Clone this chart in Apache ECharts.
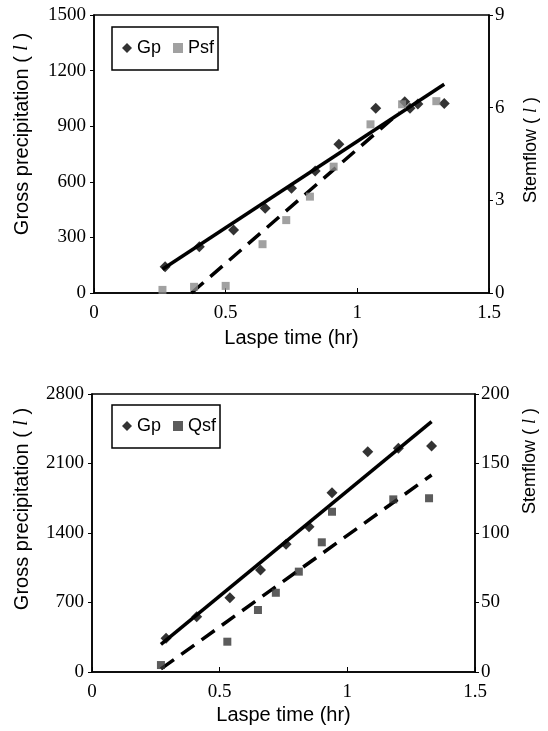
<!DOCTYPE html>
<html>
<head>
<meta charset="utf-8">
<script src="https://cdn.jsdelivr.net/npm/echarts@6/dist/echarts.min.js"></script>
<style>
  html, body { margin: 0; padding: 0; background: #fff; }
  #chart { width: 548px; height: 731px; }
</style>
</head>
<body>
<div id="chart"></div>
<script>
"use strict";
// upper panel: Gp (left axis) and Psf (right axis)
var topGpX = [0.27, 0.40, 0.53, 0.65, 0.75, 0.84, 0.93, 1.07, 1.18, 1.20, 1.23, 1.33];
var topGpY = [142, 250, 340, 457, 565, 658, 802, 997, 1032, 997, 1020, 1023];
var topPsfX = [0.26, 0.38, 0.50, 0.64, 0.73, 0.82, 0.91, 1.05, 1.17, 1.30];
var topPsfY = [0.1, 0.2, 0.23, 1.58, 2.36, 3.12, 4.09, 5.46, 6.11, 6.21];
var topGpLineX = [0.26, 1.33];
var topGpLineY = [128, 1126];
var topPsfLineX = [0.37, 1.16];
var topPsfLineY = [0, 5.84];

// lower panel: Gp (left axis) and Qsf (right axis)
var botGpX = [0.29, 0.41, 0.54, 0.66, 0.76, 0.85, 0.94, 1.08, 1.20, 1.33];
var botGpY = [339, 557, 748, 1027, 1286, 1463, 1806, 2219, 2253, 2276];
var botQsfX = [0.27, 0.53, 0.65, 0.72, 0.81, 0.90, 0.94, 1.18, 1.32];
var botQsfY = [5, 21.8, 44.6, 57, 72.2, 93.3, 115.3, 124.2, 125];
var botGpLineX = [0.27, 1.33];
var botGpLineY = [279, 2521];
var botQsfLineX = [0.27, 1.33];
var botQsfLineY = [2.2, 141.7];

var xTitle = 'Laspe time (hr)';
var leftTitle = 'Gross precipitation ( {i|l} )';
var rightTitle = 'Stemflow ( {i|l} )';

function pairs(xs, ys) {
    return xs.map(function (x, i) { return [x, ys[i]]; });
}

var serif = '"Liberation Serif", "DejaVu Serif", serif';
var sans = '"Liberation Sans", Arial, sans-serif';

function xAxis(grid, gap) {
    return {
        type: 'value', gridIndex: grid, min: 0, max: 1.5, interval: 0.5,
        name: xTitle, nameLocation: 'middle', nameGap: gap,
        nameTextStyle: { fontFamily: sans, fontSize: 20, color: '#000' },
        axisLine: { lineStyle: { color: '#000', width: 1.5 } },
        axisTick: { inside: true, length: 5, lineStyle: { color: '#000' } },
        axisLabel: { fontFamily: serif, fontSize: 19, color: '#000', margin: 11 },
        splitLine: { show: false }
    };
}

function yAxis(grid, pos, max, interval) {
    return {
        type: 'value', gridIndex: grid, position: pos, min: 0, max: max, interval: interval,
        axisLine: { show: true, lineStyle: { color: '#000', width: 1.5 } },
        axisTick: { show: true, length: 4, lineStyle: { color: '#000' } },
        axisLabel: {
            fontFamily: serif, fontSize: 19, color: '#000', margin: pos == 'left' ? 8 : 6,
            formatter: function (v) { return String(v); }
        },
        splitLine: { show: false }
    };
}

// vertical axis titles, placed where the reference has them
function vTitle(text, x, y, size) {
    return {
        type: 'text', x: x, y: y, rotation: Math.PI / 2,
        style: {
            text: text, fontFamily: sans, fontSize: size, fill: '#000',
            align: 'center', verticalAlign: 'middle',
            rich: { i: { fontFamily: serif, fontStyle: 'italic', fontSize: size, fill: '#000' } }
        }
    };
}

function legend(top, second) {
    return {
        left: 112, top: top, orient: 'horizontal',
        data: [{ name: 'Gp', icon: 'diamond' }, { name: second, icon: 'rect' }],
        borderColor: '#000', borderWidth: 1.5, borderRadius: 0,
        padding: [12, 4, 13, 10], itemGap: 12, itemWidth: 10, itemHeight: 10,
        textStyle: { fontFamily: sans, fontSize: 18, color: '#000' },
        selectedMode: false
    };
}

function dots(name, x, yIdx, symbol, size, color) {
    return {
        type: 'scatter', name: name, xAxisIndex: x, yAxisIndex: yIdx,
        symbol: symbol, symbolSize: size, itemStyle: { color: color }, z: 3
    };
}

function fit(name, x, yIdx, dashed) {
    return {
        type: 'line', name: name + ' fit', xAxisIndex: x, yAxisIndex: yIdx,
        showSymbol: false, symbol: 'none', silent: true,
        lineStyle: { color: '#000', width: 3.5, type: dashed ? [16, 9] : 'solid' }, z: 2
    };
}

var myChart = echarts.init(document.getElementById('chart'), null, { renderer: 'canvas' });

var series = [
    dots('Gp', 0, 0, 'diamond', 11, '#000'),
    dots('Psf', 0, 1, 'rect', 8, '#8a8a8a'),
    fit('Gp', 0, 0, false),
    fit('Psf', 0, 1, true),
    dots('Gp', 1, 2, 'diamond', 11, '#000'),
    dots('Qsf', 1, 3, 'rect', 8, '#333'),
    fit('Gp2', 1, 2, false),
    fit('Qsf', 1, 3, true)
];
series[0].data = pairs(topGpX, topGpY);
series[1].data = pairs(topPsfX, topPsfY);
series[2].data = pairs(topGpLineX, topGpLineY);
series[3].data = pairs(topPsfLineX, topPsfLineY);
series[4].data = pairs(botGpX, botGpY);
series[5].data = pairs(botQsfX, botQsfY);
series[6].data = pairs(botGpLineX, botGpLineY);
series[7].data = pairs(botQsfLineX, botQsfLineY);

/** @type EChartsOption */
myChart.setOption({
    animation: false,
    backgroundColor: '#fff',
    grid: [
        { left: 94, top: 15, width: 395, height: 278, show: true, borderColor: '#000', borderWidth: 1.5, backgroundColor: 'transparent' },
        { left: 92, top: 394, width: 383, height: 278, show: true, borderColor: '#000', borderWidth: 1.5, backgroundColor: 'transparent' }
    ],
    legend: [legend(27, 'Psf'), legend(405, 'Qsf')],
    xAxis: [xAxis(0, 35), xAxis(1, 33)],
    yAxis: [
        yAxis(0, 'left', 1500, 300),
        yAxis(0, 'right', 9, 3),
        yAxis(1, 'left', 2800, 700),
        yAxis(1, 'right', 200, 50)
    ],
    graphic: [
        vTitle(leftTitle, 22, 134, 20),
        vTitle(rightTitle, 531, 150, 18),
        vTitle(leftTitle, 22, 509, 20),
        vTitle(rightTitle, 530, 461, 18)
    ],
    series: series
});
</script>
</body>
</html>
